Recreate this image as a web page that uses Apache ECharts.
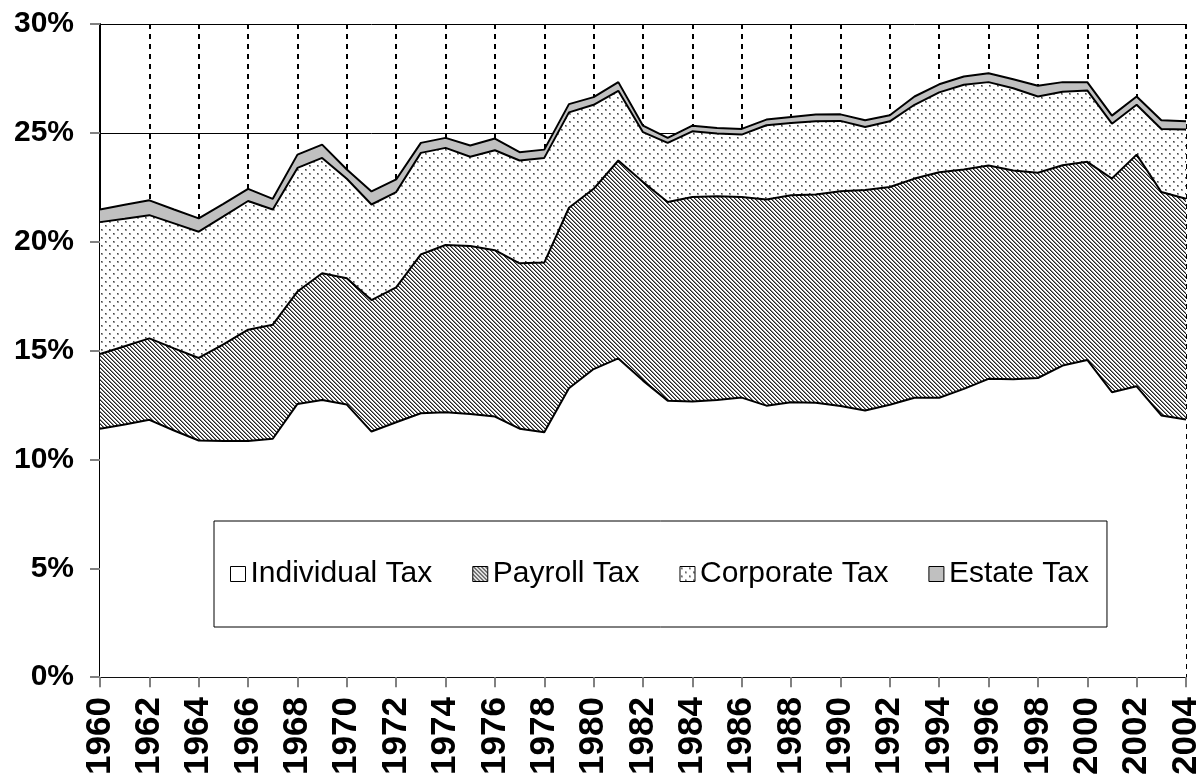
<!DOCTYPE html>
<html lang="en">
<head>
    <meta charset="UTF-8">
    <title>Tax shares</title>
    <style>
        html, body { margin: 0; padding: 0; background: #fff; }
        #chart1 { width: 1204px; height: 778px; }
    </style>
</head>
<body>
<script src="https://cdn.jsdelivr.net/npm/echarts@6/dist/echarts.min.js"></script>
<div id="chart1"></div>
<script type="text/javascript">
    // values, % of total (stacked bottom to top)
    var years = [];
    for (var y = 1960; y <= 2004; y++) years.push(String(y));

    var individualTax = [11.41, 11.6, 11.82, 11.33, 10.87, 10.85, 10.85, 10.95, 12.55, 12.73,
        12.52, 11.28, 11.71, 12.12, 12.17, 12.09, 11.97, 11.41, 11.25, 13.27,
        14.15, 14.64, 13.62, 12.70, 12.66, 12.73, 12.84, 12.47, 12.63, 12.60,
        12.45, 12.25, 12.51, 12.83, 12.83, 13.24, 13.70, 13.68, 13.74, 14.31,
        14.57, 13.09, 13.36, 12.02, 11.83];
    var payrollTax = [3.43, 3.6, 3.74, 3.77, 3.79, 4.43, 5.11, 5.24, 5.16, 5.82,
        5.80, 6.04, 6.19, 7.30, 7.68, 7.71, 7.64, 7.60, 7.79, 8.29,
        8.28, 9.09, 9.12, 9.12, 9.39, 9.36, 9.21, 9.47, 9.50, 9.57,
        9.87, 10.12, 10.00, 10.07, 10.36, 10.08, 9.80, 9.59, 9.43, 9.20,
        9.10, 9.81, 10.64, 10.26, 10.14];
    var corporateTax = [6.06, 5.85, 5.66, 5.74, 5.80, 5.88, 5.91, 5.29, 5.68, 5.30,
        4.57, 4.39, 4.38, 4.66, 4.46, 4.10, 4.59, 4.72, 4.81, 4.38,
        3.86, 3.20, 2.29, 2.72, 3.02, 2.88, 2.87, 3.41, 3.32, 3.36,
        3.23, 2.90, 3.02, 3.39, 3.67, 3.89, 3.83, 3.78, 3.50, 3.38,
        3.28, 2.52, 2.29, 2.90, 3.18];
    var estateTax = [0.58, 0.65, 0.68, 0.64, 0.61, 0.58, 0.56, 0.49, 0.61, 0.61,
        0.43, 0.60, 0.58, 0.46, 0.46, 0.52, 0.54, 0.38, 0.38, 0.38,
        0.35, 0.40, 0.30, 0.23, 0.26, 0.25, 0.26, 0.26, 0.28, 0.31,
        0.30, 0.31, 0.28, 0.38, 0.37, 0.38, 0.41, 0.41, 0.49, 0.44,
        0.38, 0.37, 0.38, 0.40, 0.38];
    var seriesNames = ['Individual Tax', 'Payroll Tax', 'Corporate Tax', 'Estate Tax'];

    // fill patterns (excel style)
    function hatchTile() {
        var c = document.createElement('canvas');
        c.width = 4; c.height = 4;
        var g = c.getContext('2d');
        g.fillStyle = '#fff'; g.fillRect(0, 0, 4, 4);
        for (var i = 0; i < 4; i++) {
            g.fillStyle = '#222'; g.fillRect(i, i, 1, 1);
            g.fillStyle = '#888'; g.fillRect((i + 1) % 4, i, 1, 1);
        }
        return c;
    }
    function dotTile() {
        var c = document.createElement('canvas');
        c.width = 8; c.height = 8;
        var g = c.getContext('2d');
        g.fillStyle = '#fff'; g.fillRect(0, 0, 8, 8);
        g.fillStyle = '#999';
        g.fillRect(1, 1, 2, 2); g.fillRect(5, 5, 2, 2);
        g.fillStyle = '#444';
        g.fillRect(1, 1, 1, 1); g.fillRect(5, 5, 1, 1);
        return c;
    }
    var fills = [
        '#ffffff',
        { image: hatchTile(), repeat: 'repeat' },
        { image: dotTile(), repeat: 'repeat' },
        '#c0c0c0'
    ];
    var values = [individualTax, payrollTax, corporateTax, estateTax];

    var series = [];
    // areas first, then the outlines on top of all of them
    for (var k = 0; k < 4; k++) {
        series.push({
            name: seriesNames[k],
            type: 'line',
            stack: 'areas',
            symbol: 'none',
            lineStyle: { width: 0 },
            itemStyle: { color: fills[k] },
            areaStyle: { color: fills[k], opacity: 1 },
            data: values[k],
            z: 2
        });
    }
    for (var m = 0; m < 4; m++) {
        series.push({
            name: 'outline' + m,
            type: 'line',
            stack: 'outlines',
            symbol: 'none',
            silent: true,
            lineStyle: { width: 2, color: '#000' },
            data: values[m],
            z: 3
        });
    }

    var legendData = seriesNames.map(function (n, i) {
        return { name: n, itemStyle: { color: fills[i], borderColor: '#000', borderWidth: 1 } };
    });

    var myChart1 = echarts.init(document.getElementById('chart1'));
    myChart1.setOption({
        animation: false,
        backgroundColor: '#fff',
        grid: { left: 100, right: 18, top: 24, bottom: 99 },
        legend: {
            data: legendData,
            left: 214,
            top: 521,
            icon: 'rect',
            itemWidth: 15,
            itemHeight: 15,
            itemGap: 40,
            padding: [38, 18, 38, 16],
            borderColor: '#000',
            borderWidth: 1,
            backgroundColor: '#fff',
            selectedMode: false,
            textStyle: { fontFamily: 'Liberation Sans, Arial, sans-serif', fontSize: 30, color: '#000', lineHeight: 30 }
        },
        xAxis: {
            type: 'category',
            data: years,
            boundaryGap: false,
            axisLine: { lineStyle: { color: '#000', width: 2 } },
            axisTick: { show: true, interval: 1, length: 10, lineStyle: { color: '#808080', width: 2 } },
            axisLabel: {
                interval: 1, rotate: 90, margin: 20,
                fontFamily: 'Liberation Sans, Arial, sans-serif', fontWeight: 'bold', fontSize: 35, color: '#000'
            },
            splitLine: { show: true, interval: 1, lineStyle: { color: '#000', width: 2, type: [5, 5] } }
        },
        yAxis: [{
            type: 'value',
            min: 0, max: 30, interval: 5,
            axisLine: { show: true, lineStyle: { color: '#000', width: 2 } },
            axisTick: { show: true, length: 10, lineStyle: { color: '#808080', width: 2 } },
            axisLabel: {
                formatter: '{value}%', margin: 26,
                fontFamily: 'Liberation Sans, Arial, sans-serif', fontWeight: 'bold', fontSize: 30, color: '#000'
            },
            splitLine: { show: true, lineStyle: { color: '#000', width: 1 } }
        }],
        series: series
    });
</script>
</body>
</html>
